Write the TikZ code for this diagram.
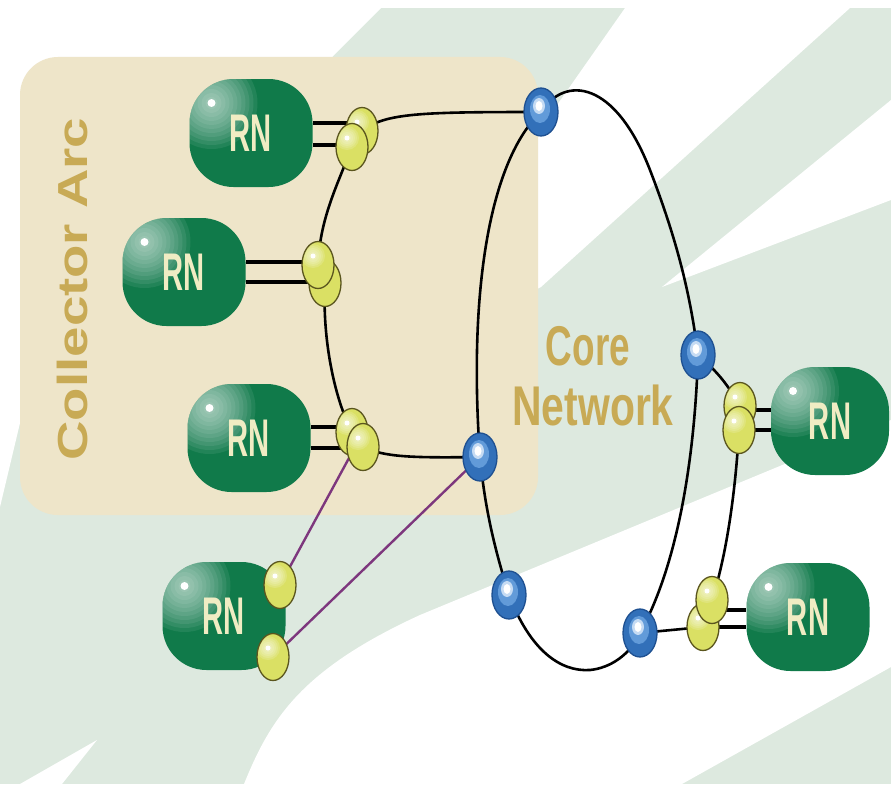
\documentclass[tikz,border=0pt]{standalone}
\usepackage{fontspec}
\setmainfont{Liberation Sans}
\usetikzlibrary{shapes.geometric}
\definecolor{bggreen}{RGB}{221,233,223}
\definecolor{beige}{RGB}{238,229,201}
\definecolor{gold}{RGB}{200,170,85}
\definecolor{rngreen}{RGB}{16,122,74}
\definecolor{rntext}{RGB}{240,236,195}
\definecolor{ylwfill}{RGB}{218,224,100}
\definecolor{ylwline}{RGB}{90,85,30}
\definecolor{bluedark}{RGB}{30,80,145}
\definecolor{bluemid}{RGB}{50,112,185}
\definecolor{bluelight}{RGB}{110,165,225}
\definecolor{purp}{RGB}{125,55,125}
\pgfdeclarelayer{bglayer}
\pgfdeclarelayer{linelayer}
\pgfsetlayers{bglayer,linelayer,main}
\newcommand{\rnlabel}{\scalebox{0.55}[1]{RN}}
\begin{document}
\begin{tikzpicture}[x=1pt,y=-1pt,
  rnbox/.style={rectangle, rounded corners=44pt, minimum width=123pt, minimum height=108pt,
    inner sep=0pt, fill=rngreen, text=rntext, font=\fontsize{53}{53}\selectfont\bfseries,
    path picture={
      \foreach \r in {46,42,...,6} {\fill[white, opacity=0.08] ([shift={(22,24)}]path picture bounding box.north west) circle (\r);}
      \fill[white] ([shift={(22,24)}]path picture bounding box.north west) circle (4);}},
  ylw/.style={ellipse, minimum width=32pt, minimum height=47pt, inner sep=0pt, draw=ylwline,
    line width=1.3pt, fill=ylwfill,
    path picture={
      \foreach \r in {12,10,...,4} {\fill[white, opacity=0.15] ([shift={(-5,-9)}]path picture bounding box.center) circle (\r);}
      \fill[white] ([shift={(-5,-9)}]path picture bounding box.center) circle (2.5);}},
  blu/.style={ellipse, minimum width=34pt, minimum height=48pt, inner sep=0pt, draw=bluedark,
    line width=1.3pt, fill=bluemid,
    path picture={
      \fill[bluelight!80!bluemid] ([shift={(-1,-3)}]path picture bounding box.center) ellipse (10 and 14);
      \fill[white!60!bluelight] ([shift={(-2,-6)}]path picture bounding box.center) ellipse (6 and 8);
      \fill[white] ([shift={(-2,-6)}]path picture bounding box.center) ellipse (3.5 and 5);}},
  ln/.style={line width=2.6pt, black},
  dbl/.style={line width=3.6pt, black},
  pline/.style={line width=2.4pt, purp},
  goldtxt/.style={text=gold, font=\fontsize{56}{56}\selectfont\bfseries, inner sep=0pt},
  arctxt/.style={text=gold, font=\fontsize{42}{42}\selectfont\bfseries, inner sep=0pt}
]
\useasboundingbox (0,0) rectangle (891,784);
\begin{pgfonlayer}{bglayer}
  \fill[bggreen] (0,0) rectangle (891,784);
  \fill[white] (0,0) -- (891,0) -- (891,8) -- (381,8) -- (334,55) -- (20,423) -- (0,507) -- cycle;
  \fill[white] (625,8) -- (850,8) -- (541,287) -- (515,300) -- (515,165) -- cycle;
  \fill[white] (662,287) -- (891,100) -- (891,200) -- cycle;
  \fill[white] (244,784) .. controls (270,720) and (300,670) .. (420,615) -- (891,420) -- (891,667) -- (682,784) -- cycle;
  \fill[white] (20,784) -- (97,740) -- (62,784) -- cycle;
  \fill[beige, rounded corners=38pt] (20,57) rectangle (538,515);
\end{pgfonlayer}

% labels
\node[arctxt, rotate=90, anchor=base] (collector) at (87,289) {\scalebox{1.3}[1]{Collector Arc}};
\node[goldtxt, anchor=base] (core) at (588,365) {\scalebox{0.66}[1]{Core}};
\node[goldtxt, anchor=base] (network) at (593,425) {\scalebox{0.73}[1]{Network}};

% RN nodes
\node[rnbox] (rn1) at (251,133) {\rnlabel};
\node[rnbox] (rn2) at (184,272) {\rnlabel};
\node[rnbox] (rn3) at (249,438) {\rnlabel};
\node[rnbox] (rn4) at (224,616) {\rnlabel};
\node[rnbox, minimum width=118pt] (rn5) at (830,421) {\rnlabel};
\node[rnbox] (rn6) at (808,617) {\rnlabel};

% yellow nodes (back first)
\node[ylw] (ya1b) at (362,131) {};
\node[ylw] (ya1f) at (352,147) {};
\node[ylw] (yb1b) at (325,283) {};
\node[ylw] (yb1f) at (318,265) {};
\node[ylw] (yc1b) at (352,432) {};
\node[ylw] (yc1f) at (363,447) {};
\node[ylw] (yd1) at (280,585) {};
\node[ylw] (yd2) at (273,657) {};
\node[ylw] (ye1b) at (740,406) {};
\node[ylw] (ye1f) at (739,430) {};
\node[ylw] (yf1b) at (703,627) {};
\node[ylw] (yf1f) at (712,600) {};

% blue nodes
\node[blu] (bT) at (541,112) {};
\node[blu] (bC) at (480,457) {};
\node[blu] (bB) at (509,595) {};
\node[blu] (bR2) at (640,633) {};
\node[blu] (bR1) at (698,355) {};

\begin{pgfonlayer}{linelayer}
  % double links
  \draw[dbl] ([yshift=10pt]rn1.east) -- ([yshift=8pt]ya1b.center);
  \draw[dbl] ([yshift=-12pt]rn1.east) -- ([yshift=2pt]ya1f.center);
  \draw[dbl] ([yshift=10pt]rn2.east) -- ([yshift=3pt]yb1f.center);
  \draw[dbl] ([yshift=-10pt]rn2.east) -- ([yshift=1pt]yb1b.center);
  \draw[dbl] ([yshift=11pt]rn3.east) -- ([yshift=5pt]yc1b.center);
  \draw[dbl] ([yshift=-10pt]rn3.east) -- ([yshift=-1pt]yc1f.center);
  \draw[dbl] ([yshift=-4pt]ye1b.center) -- ([yshift=11pt]rn5.west);
  \draw[dbl] (ye1f.center) -- ([yshift=-9pt]rn5.west);
  \draw[dbl] ([yshift=-10pt]yf1f.center) -- ([yshift=7pt]rn6.west);
  \draw[dbl] (yf1b.center) -- ([yshift=-10pt]rn6.west);
  % collector arc
  \draw[ln] (ya1b.center) .. controls (385,113) and (420,112) .. (bT.center);
  \draw[ln] (ya1f.center) .. controls (335,190) and (320,220) .. (yb1f.center);
  \draw[ln] (yb1b.center) .. controls (322,340) and (335,400) .. (yc1b.center);
  \draw[ln] (yc1f.center) .. controls (385,457) and (410,458) .. (bC.center);
  % core ring
  \draw[ln] (bT.center) .. controls (490,160) and (468,290) .. (bC.center);
  \draw[ln] (bT.center) .. controls (565,75) and (615,80) .. (650,170) .. controls (675,235) and (690,290) .. (bR1.center);
  \draw[ln] (bR1.center) .. controls (695,450) and (680,560) .. (bR2.center);
  \draw[ln] (bC.center) .. controls (485,510) and (495,550) .. (bB.center);
  \draw[ln] (bB.center) .. controls (530,650) and (560,672) .. (590,670) .. controls (610,668) and (630,655) .. (bR2.center);
  % right collector
  \draw[ln] (bR1.center) .. controls (715,370) and (725,380) .. (ye1b.center);
  \draw[ln] (ye1f.center) .. controls (735,500) and (725,560) .. (yf1f.center);
  \draw[ln] (bR2.center) -- (yf1b.center);
  % purple links
  \draw[pline] ([xshift=-8pt]yc1f.center) -- (yd1.center);
  \draw[pline] (bC.center) -- (yd2.center);
  \draw[pline] (yd1.center) -- (yd2.center);
\end{pgfonlayer}
\end{tikzpicture}
\end{document}
